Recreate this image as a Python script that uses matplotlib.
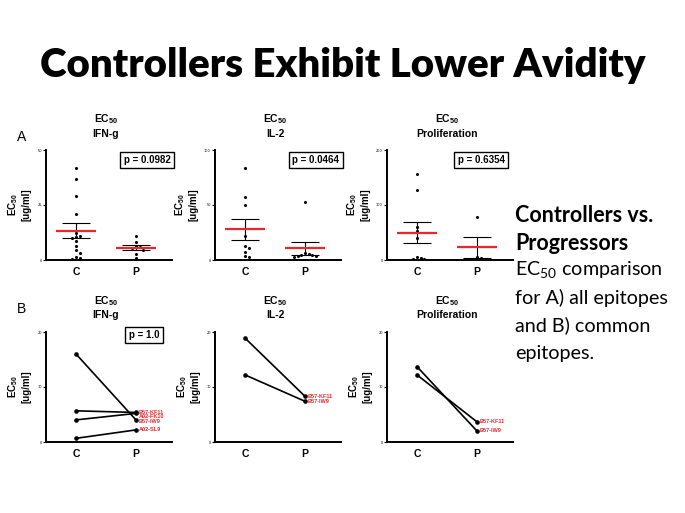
import numpy as np
import matplotlib.pyplot as plt

plt.rcParams['mathtext.fontset'] = 'custom'
plt.rcParams['mathtext.rm'] = 'Lato'
plt.rcParams['mathtext.bf'] = 'Liberation Sans:bold'

# --- data ---
groups = ["C", "P"]
assays = ["IFN-g", "IL-2", "Proliferation"]

# A) all epitopes, EC50 [ug/ml]
ifng_c = [41.7, 36.9, 29.2, 21.0, 12.5, 11.0, 10.5, 10.0, 8.5, 6.5, 4.7, 3.0, 1.5, 0.8, 0.5]
ifng_p = [11.0, 8.0, 6.2, 5.7, 5.3, 4.7, 2.9, 0.9]
il2_c = [83.7, 57.2, 50.3, 21.7, 13.0, 10.5, 7.5, 3.9, 3.0]
il2_p = [52.7, 6.5, 5.5, 5.0, 4.5, 4.0, 3.5, 3.0]
prol_c = [156, 128, 60, 52, 40, 6, 3, 2, 1]
prol_p = [79, 6, 4, 2]
a_ymax = [50, 100, 200]
a_pvals = ["p = 0.0982", "p = 0.0464", "p = 0.6354"]

# B) common epitopes, paired C -> P
b_ifng_c = [5.67, 4.02, 16.0, 0.67]
b_ifng_p = [5.37, 5.2, 4.0, 2.2]
b_ifng_lab = ["B57-KF11", "A02-FK10", "B57-IW9", "A02-SL9"]
b_il2_c = [18.9, 12.2]
b_il2_p = [8.3, 7.4]
b_il2_lab = ["B57-KF11", "B57-IW9"]
b_prol_c = [12.2, 13.7]
b_prol_p = [3.66, 2.0]
b_prol_lab = ["B57-KF11", "B57-IW9"]
b_ymax = [20, 20, 20]


def style_axes(ax, ymax):
    ax.set_xlim(-0.5, 1.6)
    ax.set_ylim(0, ymax)
    ax.set_yticks([0, ymax / 2, ymax])
    ax.set_yticklabels([f"{v:g}" for v in (0, ymax / 2, ymax)])
    ax.set_xticks([0, 1])
    ax.set_xticklabels(groups, fontweight='bold', fontsize=7.5, family='Liberation Sans')
    ax.tick_params(axis='x', length=0, pad=5)
    ax.tick_params(axis='y', length=2, width=0.8, labelsize=2.5, pad=1)
    for s in ['top', 'right']:
        ax.spines[s].set_visible(False)
    for s in ['left', 'bottom']:
        ax.spines[s].set_linewidth(1.4)
    ax.set_ylabel("EC$_{\\mathbf{50}}$\n[ug/ml]", fontweight='bold', fontsize=7,
                  family='Liberation Sans', labelpad=4)


def panel_title(ax, name):
    ax.text(0.5, 1.28, "EC$_{\\mathbf{50}}$", transform=ax.get_xaxis_transform(),
            ha='center', va='center', fontweight='bold', fontsize=7.5, family='Liberation Sans')
    ax.text(0.5, 1.15, name, transform=ax.get_xaxis_transform(),
            ha='center', va='center', fontweight='bold', fontsize=7.5, family='Liberation Sans')


def swarm(vals, ymax, step=0.06):
    # simple deterministic beeswarm offsets
    placed = []
    xs = []
    for v in vals:
        for k in [0, 1, -1, 2, -2, 3, -3]:
            dx = k * step
            if all(abs(v - pv) > 0.035 * ymax or abs(dx - px) > step * 0.9 for pv, px in placed):
                break
        placed.append((v, dx))
        xs.append(dx)
    return np.array(xs)


fig = plt.figure(figsize=(6.85, 5.13), dpi=100)
W, H = 685, 513

fig.text(0.5, (H - 65) / H, "Controllers Exhibit Lower Avidity", ha='center', va='center',
         fontsize=29, fontweight='heavy', family='Lato')

lefts = [46, 215, 387]
aw = 126

# row A
a_data = [(ifng_c, ifng_p), (il2_c, il2_p), (prol_c, prol_p)]
box_x = [147, 316, 481]
for i, ((cv, pv), ymax, name, pval) in enumerate(zip(a_data, a_ymax, assays, a_pvals)):
    ax = fig.add_axes([lefts[i] / W, (H - 260) / H, aw / W, 110 / H])
    style_axes(ax, ymax)
    panel_title(ax, name)
    for g, vals in enumerate([cv, pv]):
        vals = np.array(vals, dtype=float)
        ax.scatter(g + swarm(vals, ymax), vals, s=5, color='black', zorder=3, linewidths=0)
        m = vals.mean()
        sem = vals.std(ddof=1) / np.sqrt(len(vals))
        ax.hlines(m, g - 0.33, g + 0.33, color='#e8262b', lw=1.6, zorder=4)
        ax.hlines([m - sem, m + sem], g - 0.23, g + 0.23, color='black', lw=0.8, zorder=2)
        ax.vlines(g, m - sem, m + sem, color='black', lw=0.8, zorder=2)
    fig.text(box_x[i] / W, (H - 160) / H, pval, ha='center', va='center', fontsize=7,
             fontweight='bold', family='Liberation Sans',
             bbox=dict(boxstyle='square,pad=0.35', fc='white', ec='black', lw=1))

# row B
b_data = [(b_ifng_c, b_ifng_p, b_ifng_lab), (b_il2_c, b_il2_p, b_il2_lab),
          (b_prol_c, b_prol_p, b_prol_lab)]
for i, ((cv, pv, labs), ymax, name) in enumerate(zip(b_data, b_ymax, assays)):
    ax = fig.add_axes([lefts[i] / W, (H - 442) / H, aw / W, 110 / H])
    style_axes(ax, ymax)
    panel_title(ax, name)
    for c, p in zip(cv, pv):
        ax.plot([0, 1], [c, p], color='black', lw=1.2, marker='o', ms=2.3)
    order = np.argsort(pv)[::-1]
    ylab = np.array(pv, dtype=float)[order]
    for j in range(1, len(ylab)):
        if ylab[j - 1] - ylab[j] < 0.8:
            ylab[j] = ylab[j - 1] - 0.8
    for j, k in enumerate(order):
        ax.text(1.05, ylab[j], labs[k], color='#e8262b', fontsize=4, fontweight='bold',
                va='center', ha='left', family='Liberation Sans')

fig.text(144 / W, (H - 335) / H, "p = 1.0", ha='center', va='center', fontsize=7,
         fontweight='bold', family='Liberation Sans',
         bbox=dict(boxstyle='square,pad=0.35', fc='white', ec='black', lw=1))

fig.text(22 / W, (H - 137) / H, "A", ha='center', va='center', fontsize=10, family='Liberation Sans')
fig.text(22 / W, (H - 309) / H, "B", ha='center', va='center', fontsize=10, family='Liberation Sans')

# side notes
side = [("Controllers vs.", 'bold', 15.5), ("Progressors", 'bold', 15.5),
        ("EC$_{50}$ comparison", 'normal', 14.2), ("for A) all epitopes", 'normal', 14.2),
        ("and B) common", 'normal', 14.2), ("epitopes.", 'normal', 14.2)]
for k, (line, wt, fs) in enumerate(side):
    fig.text(515 / W, (H - (216 + 27.4 * k)) / H, line, ha='left', va='center',
             fontsize=fs, fontweight=wt, family='Lato')

fig.savefig("out.png", dpi=100)
